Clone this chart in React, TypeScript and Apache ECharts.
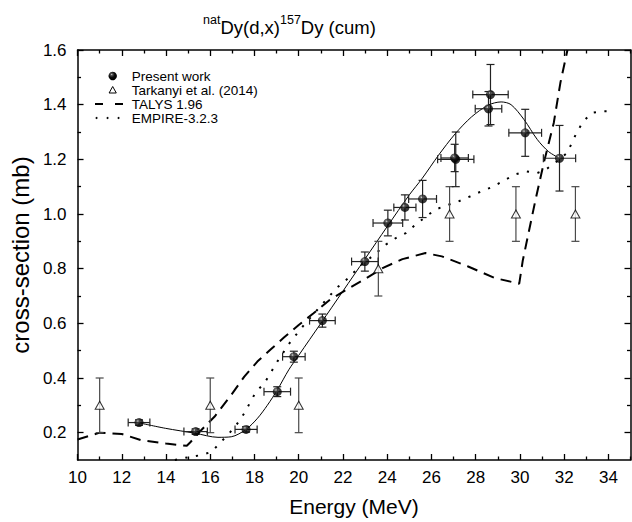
import React, { useEffect, useRef } from 'react';
import * as echarts from 'echarts';

// ---- tick labels ----
const xMajorTicks = [10, 12, 14, 16, 18, 20, 22, 24, 26, 28, 30, 32, 34];
const xMinorTicks = [11, 13, 15, 17, 19, 21, 23, 25, 27, 29, 31, 33, 35];
const yMajorTicks = [0.2, 0.4, 0.6, 0.8, 1.0, 1.2, 1.4, 1.6];
const yMinorTicks = [0.3, 0.5, 0.7, 0.9, 1.1, 1.3, 1.5];

// ---- Present work (energy, cross-section, errors) ----
const presentE = [12.78, 15.34, 17.62, 19.03, 19.78, 21.07, 22.99, 24.03, 24.80, 25.60, 27.10, 27.05, 28.67, 28.58, 30.24, 31.79];
const presentCS = [0.237, 0.204, 0.212, 0.350, 0.478, 0.610, 0.826, 0.967, 1.024, 1.055, 1.200, 1.205, 1.437, 1.385, 1.297, 1.204];
const presentEErr = [0.49, 0.53, 0.50, 0.60, 0.51, 0.58, 0.60, 0.67, 0.50, 0.63, 0.82, 0.62, 0.80, 0.60, 0.74, 0.73];
const presentCSErr = [0.010, 0.010, 0.010, 0.018, 0.020, 0.024, 0.035, 0.047, 0.046, 0.068, 0.100, 0.050, 0.110, 0.063, 0.086, 0.120];

// ---- Tarkanyi et al. (2014) ----
const tarE = [11.0, 16.0, 20.0, 23.6, 26.82, 29.82, 32.51];
const tarCS = [0.30, 0.30, 0.30, 0.80, 1.00, 1.00, 1.00];
const tarCSErr = [0.10, 0.10, 0.10, 0.10, 0.10, 0.10, 0.10];

// ---- fit through present work ----
const fitE = [12.78, 13.97, 15.31, 16.35, 16.95, 17.62, 18.14, 18.58, 19.03, 19.55, 20.0, 21.0, 22.0, 23.0, 24.0, 25.0, 25.58, 26.32, 27.07, 27.81, 28.56, 29.15, 29.6, 30.19, 30.79, 31.3, 31.79];
const fitCS = [0.236, 0.216, 0.198, 0.183, 0.185, 0.212, 0.253, 0.300, 0.356, 0.430, 0.483, 0.600, 0.718, 0.836, 0.954, 1.070, 1.130, 1.215, 1.293, 1.355, 1.398, 1.410, 1.400, 1.345, 1.272, 1.228, 1.204];

// ---- TALYS 1.96 ----
const talE = [10.0, 11.0, 12.0, 12.9, 14.0, 14.94, 15.1, 15.6, 16.2, 16.95, 17.54, 18.13, 18.74, 19.33, 20.0, 20.67, 21.41, 22.16, 23.05, 23.79, 24.69, 25.73, 26.47, 27.66, 28.85, 29.97, 30.13, 30.7, 31.08, 31.53, 31.83, 32.15];
const talCS = [0.175, 0.200, 0.195, 0.172, 0.160, 0.152, 0.165, 0.210, 0.259, 0.338, 0.405, 0.460, 0.505, 0.548, 0.594, 0.637, 0.686, 0.723, 0.765, 0.802, 0.835, 0.857, 0.845, 0.808, 0.766, 0.745, 0.830, 1.050, 1.187, 1.333, 1.480, 1.600];

// ---- EMPIRE-3.2.3 ----
const empE = [14.4, 15.0, 15.6, 16.06, 16.43, 16.88, 17.18, 17.54, 18.07, 18.44, 18.74, 19.03, 19.63, 20.3, 21.04, 21.71, 22.23, 22.75, 23.5, 23.94, 24.39, 24.84, 25.28, 26.17, 26.77, 27.22, 27.74, 28.26, 28.78, 29.23, 29.75, 30.27, 30.79, 31.16, 31.68, 32.13, 32.35, 32.58, 32.87, 33.25, 33.76, 34.0];
const empCS = [0.100, 0.110, 0.118, 0.130, 0.161, 0.200, 0.228, 0.271, 0.350, 0.380, 0.420, 0.460, 0.533, 0.600, 0.668, 0.729, 0.765, 0.808, 0.857, 0.888, 0.912, 0.930, 0.961, 1.016, 1.034, 1.046, 1.064, 1.083, 1.100, 1.120, 1.144, 1.156, 1.150, 1.162, 1.193, 1.223, 1.260, 1.300, 1.339, 1.370, 1.376, 1.376];

const FONT = "'Liberation Sans', Arial, Helvetica, sans-serif";

function makeErrRender(color: string) {
  return (_params: any, api: any) => {
    const x = api.value(0);
    const y = api.value(1);
    const ex = api.value(2);
    const ey = api.value(3);
    const c = api.coord([x, y]);
    const cap = 4;
    const style = { stroke: color, lineWidth: 1.2, fill: 'none' };
    const children: any[] = [];
    if (ex > 0) {
      const l = api.coord([x - ex, y]);
      const r = api.coord([x + ex, y]);
      children.push({ type: 'line', shape: { x1: l[0], y1: c[1], x2: r[0], y2: c[1] }, style });
      children.push({ type: 'line', shape: { x1: l[0], y1: c[1] - cap, x2: l[0], y2: c[1] + cap }, style });
      children.push({ type: 'line', shape: { x1: r[0], y1: c[1] - cap, x2: r[0], y2: c[1] + cap }, style });
    }
    if (ey > 0) {
      const t = api.coord([x, y + ey]);
      const b = api.coord([x, y - ey]);
      children.push({ type: 'line', shape: { x1: c[0], y1: t[1], x2: c[0], y2: b[1] }, style });
      children.push({ type: 'line', shape: { x1: c[0] - cap, y1: t[1], x2: c[0] + cap, y2: t[1] }, style });
      children.push({ type: 'line', shape: { x1: c[0] - cap, y1: b[1], x2: c[0] + cap, y2: b[1] }, style });
    }
    return { type: 'group', children };
  };
}

function sphereGradient() {
  return new echarts.graphic.RadialGradient(0.38, 0.32, 0.7, [
    { offset: 0, color: '#d0d0d0' },
    { offset: 0.18, color: '#505050' },
    { offset: 0.5, color: '#0c0c0c' },
    { offset: 1, color: '#000' },
  ]);
}

export default function App() {
  const ref = useRef<HTMLDivElement>(null);

  useEffect(() => {
    const chart = echarts.init(ref.current!, null, { renderer: 'svg' });
    const lineCol = { color: '#000', width: 1.3 };
    const axisLine = { show: true, onZero: false, lineStyle: { color: '#000', width: 1.5 } };

    const xAx = (pos: string, major: boolean, labels: boolean) => ({
      type: 'value',
      position: pos,
      min: 10,
      max: 35,
      axisLine: major ? axisLine : { show: false },
      axisTick: {
        show: true,
        inside: true,
        length: major ? 6 : 3.5,
        customValues: major ? xMajorTicks : xMinorTicks,
        lineStyle: lineCol,
      },
      axisLabel: labels
        ? {
            show: true,
            customValues: xMajorTicks,
            formatter: (v: number) => String(v),
            color: '#000',
            fontSize: 17,
            fontFamily: FONT,
            margin: 9,
          }
        : { show: false },
      splitLine: { show: false },
      ...(labels
        ? {
            name: 'Energy (MeV)',
            nameLocation: 'middle',
            nameGap: 36,
            nameTextStyle: { fontSize: 21, fontFamily: FONT, color: '#000' },
          }
        : {}),
    });

    const yAx = (pos: string, major: boolean, labels: boolean) => ({
      type: 'value',
      position: pos,
      min: 0.1,
      max: 1.6,
      axisLine: major ? axisLine : { show: false },
      axisTick: {
        show: true,
        inside: true,
        length: major ? 6 : 3.5,
        customValues: major ? yMajorTicks : yMinorTicks,
        lineStyle: lineCol,
      },
      axisLabel: labels
        ? {
            show: true,
            customValues: yMajorTicks,
            formatter: (v: number) => v.toFixed(1),
            color: '#000',
            fontSize: 17,
            fontFamily: FONT,
            margin: 11,
          }
        : { show: false },
      splitLine: { show: false },
      ...(labels
        ? {
            name: 'cross-section (mb)',
            nameLocation: 'middle',
            nameGap: 36,
            nameTextStyle: { fontSize: 24, fontFamily: FONT, color: '#000' },
          }
        : {}),
    });

    const legendRows = [
      { y: 76, text: 'Present work' },
      { y: 90, text: 'Tarkanyi et al. (2014)' },
      { y: 104, text: 'TALYS 1.96' },
      { y: 118, text: 'EMPIRE-3.2.3' },
    ];
    const mx = 112.7;

    const graphic: any[] = [
      {
        type: 'circle',
        shape: { cx: mx, cy: legendRows[0].y, r: 4.2 },
        style: { fill: sphereGradient() },
      },
      {
        type: 'polygon',
        shape: { points: [[mx, legendRows[1].y - 3.5], [mx - 3.6, legendRows[1].y + 3], [mx + 3.6, legendRows[1].y + 3]] },
        style: { fill: '#fff', stroke: '#000', lineWidth: 1 },
      },
      { type: 'line', shape: { x1: 95, y1: legendRows[2].y, x2: 103, y2: legendRows[2].y }, style: { stroke: '#000', lineWidth: 2 } },
      { type: 'line', shape: { x1: 115, y1: legendRows[2].y, x2: 123, y2: legendRows[2].y }, style: { stroke: '#000', lineWidth: 2 } },
      { type: 'circle', shape: { cx: 96.5, cy: legendRows[3].y, r: 1 }, style: { fill: '#000' } },
      { type: 'circle', shape: { cx: 107.5, cy: legendRows[3].y, r: 1 }, style: { fill: '#000' } },
      { type: 'circle', shape: { cx: 118.5, cy: legendRows[3].y, r: 1 }, style: { fill: '#000' } },
      ...legendRows.map((r) => ({
        type: 'text',
        x: 131.7,
        y: r.y,
        style: {
          text: r.text,
          fontSize: 13.5,
          lineHeight: 13,
          fontFamily: FONT,
          fill: '#000',
          verticalAlign: 'middle',
          align: 'left',
        },
      })),
    ];

    const option: any = {
      animation: false,
      backgroundColor: '#fff',
      title: {
        text: '{sup|nat}{m|Dy(d,x)}{sup|157}{m|Dy (cum)}',
        left: 203,
        top: 13,
        padding: 0,
        textStyle: {
          fontWeight: 'normal',
          rich: {
            m: { fontSize: 18.5, fontWeight: 'normal', fontFamily: FONT, color: '#000', lineHeight: 24, verticalAlign: 'bottom' },
            sup: { fontSize: 12.5, fontWeight: 'normal', fontFamily: FONT, color: '#000', lineHeight: 10, verticalAlign: 'top' },
          },
        },
      },
      grid: { left: 71, right: 1.5, top: 50, bottom: 62, containLabel: false },
      xAxis: [xAx('bottom', true, true), xAx('bottom', false, false), xAx('top', true, false), xAx('top', false, false)],
      yAxis: [yAx('left', true, true), yAx('left', false, false), yAx('right', true, false), yAx('right', false, false)],
      graphic,
      series: [
        {
          name: 'TALYS 1.96',
          type: 'line',
          data: talE.map((e, i) => [e, talCS[i]]),
          showSymbol: false,
          smooth: false,
          lineStyle: { color: '#000', width: 2, type: [11, 7], cap: 'butt' },
          z: 1,
        },
        {
          name: 'EMPIRE-3.2.3',
          type: 'line',
          data: empE.map((e, i) => [e, empCS[i]]),
          showSymbol: false,
          smooth: false,
          lineStyle: { color: '#000', width: 2, type: [2.2, 8.5], cap: 'butt' },
          z: 1,
        },
        {
          name: 'fit',
          type: 'line',
          data: fitE.map((e, i) => [e, fitCS[i]]),
          showSymbol: false,
          smooth: 0.3,
          lineStyle: { color: '#000', width: 1 },
          z: 1,
        },
        {
          name: 'Tarkanyi err',
          type: 'custom',
          renderItem: makeErrRender('#4a4a4a'),
          data: tarE.map((e, i) => [e, tarCS[i], 0, tarCSErr[i]]),
          encode: { x: 0, y: 1 },
          z: 2,
        },
        {
          name: 'Tarkanyi et al. (2014)',
          type: 'scatter',
          data: tarE.map((e, i) => [e, tarCS[i]]),
          symbol: 'triangle',
          symbolSize: [9, 8],
          itemStyle: { color: '#fff', borderColor: '#000', borderWidth: 1 },
          z: 3,
        },
        {
          name: 'Present err',
          type: 'custom',
          renderItem: makeErrRender('#222'),
          data: presentE.map((e, i) => [e, presentCS[i], presentEErr[i], presentCSErr[i]]),
          encode: { x: 0, y: 1 },
          z: 2,
        },
        {
          name: 'Present work',
          type: 'scatter',
          data: presentE.map((e, i) => [e, presentCS[i]]),
          symbol: 'circle',
          symbolSize: 9,
          itemStyle: { color: sphereGradient() },
          z: 3,
        },
      ],
    };

    chart.setOption(option);
    return () => chart.dispose();
  }, []);

  return <div ref={ref} style={{ position: 'absolute', left: 0, top: 0, width: 632, height: 522 }} />;
}
